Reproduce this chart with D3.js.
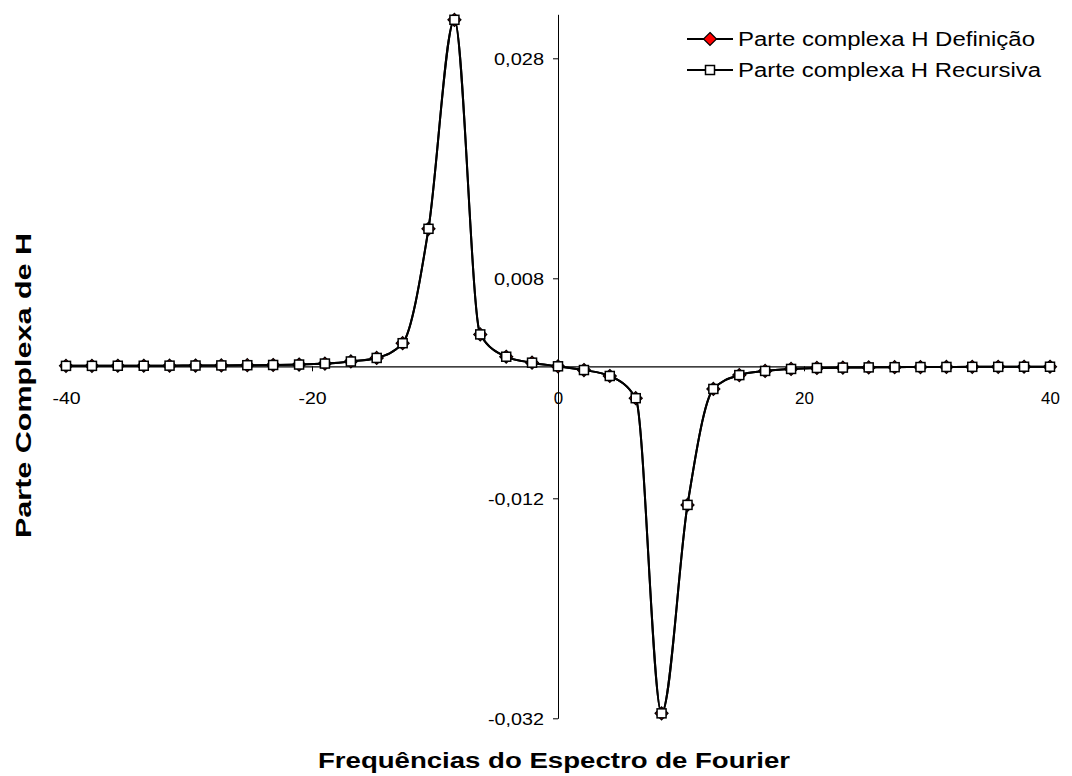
<!DOCTYPE html>
<html>
<head>
<meta charset="utf-8">
<script src="https://cdn.jsdelivr.net/npm/d3@7"></script>
<style>
  html, body { margin: 0; padding: 0; background: #fff; }
  svg text { font-family: Arial, "Liberation Sans", sans-serif; fill: #000; }
</style>
</head>
<body>
<svg id="chart" width="1072" height="776"></svg>
<script>
// ---- data ----
const freq = [-40, -37.89, -35.79, -33.68, -31.58, -29.47, -27.37, -25.26, -23.16, -21.05,
  -18.95, -16.84, -14.74, -12.63, -10.53, -8.42, -6.32, -4.21, -2.11, 0,
  2.11, 4.21, 6.32, 8.42, 10.53, 12.63, 14.74, 16.84, 18.95, 21.05,
  23.16, 25.26, 27.37, 29.47, 31.58, 33.68, 35.79, 37.89, 40];
const hDefinicao = [0.00004, 0.00004, 0.00005, 0.00005, 0.00006, 0.00007, 0.00008, 0.0001, 0.00012, 0.00016,
  0.00025, 0.00044, 0.00076, 0.0021, 0.0125, 0.0315, 0.0029, 0.00087, 0.00033, 0,
  -0.00034, -0.00088, -0.0029, -0.03155, -0.0126, -0.00206, -0.0008, -0.00042, -0.00024, -0.00015,
  -0.00012, -0.0001, -0.00008, -0.00007, -0.00006, -0.00005, -0.00005, -0.00004, -0.00004];
const hRecursiva = [0.00004, 0.00004, 0.00005, 0.00005, 0.00006, 0.00007, 0.00008, 0.0001, 0.00012, 0.00016,
  0.00025, 0.00044, 0.00076, 0.0021, 0.0125, 0.0315, 0.0029, 0.00087, 0.00033, 0,
  -0.00034, -0.00088, -0.0029, -0.03155, -0.0126, -0.00206, -0.0008, -0.00042, -0.00024, -0.00015,
  -0.00012, -0.0001, -0.00008, -0.00007, -0.00006, -0.00005, -0.00005, -0.00004, -0.00004];
const seriesNames = ["Parte complexa H Definição", "Parte complexa H Recursiva"];
const xTicks = [-40, -20, 0, 20, 40];
const xTickLabels = ["-40", "-20", "0", "20", "40"];
const yTicks = [-0.032, -0.012, 0.008, 0.028];
const yTickLabels = ["-0,032", "-0,012", "0,008", "0,028"];
const xTitle = "Frequências do Espectro de Fourier";
const yTitle = "Parte Complexa de H";

// ---- scales ----
const svg = d3.select("#chart");
const x = d3.scaleLinear().domain([-40, 40]).range([66, 1050]);
const y = d3.scaleLinear().domain([-0.032, 0.032]).range([718.3, 14.3]);
const x0 = x(0), y0 = y(0);

// ---- axes ----
const yAxis = d3.axisLeft(y).tickValues(yTicks).tickFormat((d, i) => yTickLabels[i])
  .tickSizeInner(5).tickSizeOuter(0).tickPadding(4);
const gy = svg.append("g").attr("transform", `translate(${x0},0)`).call(yAxis);
gy.select(".domain").attr("stroke", "#000").attr("stroke-width", 1);
gy.selectAll(".tick line").attr("stroke", "#000");
gy.selectAll(".tick text").attr("font-size", 17).attr("font-family", "Arial, 'Liberation Sans', sans-serif")
  .attr("dy", "0.36em").attr("x", -14)
  .attr("textLength", (d, i) => yTickLabels[i].startsWith("-") ? 56 : 50).attr("lengthAdjust", "spacingAndGlyphs");

const xAxis = d3.axisBottom(x).tickValues(xTicks).tickFormat((d, i) => xTickLabels[i])
  .tickSizeInner(5).tickSizeOuter(0).tickPadding(4);
const gx = svg.append("g").attr("transform", `translate(0,${y0})`).call(xAxis);
gx.select(".domain").attr("stroke", "#000").attr("stroke-width", 1.3);
gx.selectAll(".tick line").attr("stroke", "#000");
gx.selectAll(".tick text").attr("font-size", 17).attr("font-family", "Arial, 'Liberation Sans', sans-serif")
  .attr("y", 0).attr("dy", 38)
  .attr("textLength", (d, i) => xTickLabels[i].length * 9.4).attr("lengthAdjust", "spacingAndGlyphs");

// ---- series ----
const line = d3.line().x(d => x(d[0])).y(d => y(d[1])).curve(d3.curveMonotoneX);
const dataDef = freq.map((f, i) => [f, hDefinicao[i]]);
const dataRec = freq.map((f, i) => [f, hRecursiva[i]]);

const diamond = (cx, cy, r) => `M${cx},${cy - r}L${cx + r},${cy}L${cx},${cy + r}L${cx - r},${cy}Z`;

svg.append("path").datum(dataDef).attr("d", line).attr("fill", "none").attr("stroke", "#000").attr("stroke-width", 2);
svg.append("g").selectAll("path").data(dataDef).join("path")
  .attr("d", d => diamond(x(d[0]), y(d[1]), 6.5))
  .attr("fill", "#ff0000").attr("stroke", "#000").attr("stroke-width", 1.2);

svg.append("path").datum(dataRec).attr("d", line).attr("fill", "none").attr("stroke", "#000").attr("stroke-width", 2);
svg.append("g").selectAll("rect").data(dataRec).join("rect")
  .attr("x", d => x(d[0]) - 4.5).attr("y", d => y(d[1]) - 4.5)
  .attr("width", 9).attr("height", 9)
  .attr("fill", "#fff").attr("stroke", "#000").attr("stroke-width", 1.5);

// ---- legend ----
const legY = [39, 70];
const legW = [297, 303];
seriesNames.forEach((name, i) => {
  const g = svg.append("g");
  g.append("line").attr("x1", 687).attr("x2", 733).attr("y1", legY[i]).attr("y2", legY[i])
    .attr("stroke", "#000").attr("stroke-width", 2);
  if (i === 0) {
    g.append("path").attr("d", diamond(710, legY[i], 6.5)).attr("fill", "#ff0000").attr("stroke", "#000").attr("stroke-width", 1.2);
  } else {
    g.append("rect").attr("x", 710 - 4.5).attr("y", legY[i] - 4.5).attr("width", 9).attr("height", 9)
      .attr("fill", "#fff").attr("stroke", "#000").attr("stroke-width", 1.5);
  }
  g.append("text").attr("x", 738).attr("y", legY[i] + 7).attr("font-size", 19.5)
    .attr("textLength", legW[i]).attr("lengthAdjust", "spacingAndGlyphs").text(name);
});

// ---- titles ----
svg.append("text").attr("x", 318).attr("y", 768).attr("font-size", 22).attr("font-weight", "bold")
  .attr("textLength", 472).attr("lengthAdjust", "spacingAndGlyphs").text(xTitle);
svg.append("text").attr("transform", "translate(31,538) rotate(-90)").attr("font-size", 22).attr("font-weight", "bold")
  .attr("textLength", 305).attr("lengthAdjust", "spacingAndGlyphs").text(yTitle);
</script>
</body>
</html>
